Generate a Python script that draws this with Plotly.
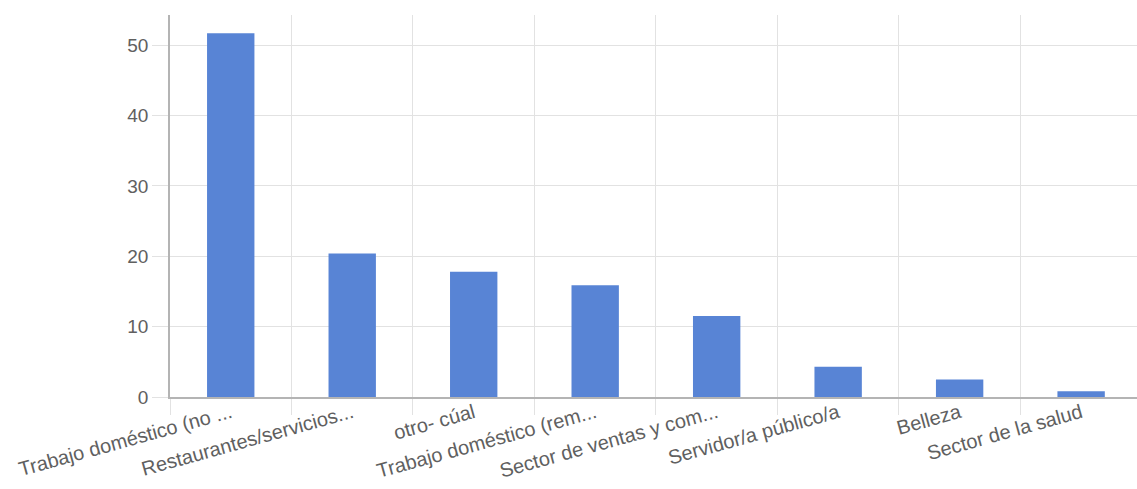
import plotly.graph_objects as go

# Sector labels (as displayed, truncated) and their values
categories = [
    "Trabajo doméstico (no ...",
    "Restaurantes/servicios...",
    "otro- cúal",
    "Trabajo doméstico (rem...",
    "Sector de ventas y com...",
    "Servidor/a público/a",
    "Belleza",
    "Sector de la salud",
]
values = [51.7, 20.4, 17.8, 15.9, 11.5, 4.3, 2.5, 0.8]

y_ticks = [0, 10, 20, 30, 40, 50]

BAR = "#5884d5"
GRID = "#e2e2e2"
AXIS = "#b4b4b4"
TEXT = "#606060"
FONT = "Liberation Sans, Arial, sans-serif"

fig = go.Figure(
    go.Bar(
        x=categories,
        y=values,
        marker=dict(color=BAR, line=dict(width=0)),
        width=0.39,
        hoverinfo="x+y",
    )
)

fig.update_layout(
    width=1137,
    height=489,
    autosize=False,
    margin=dict(l=170, r=0, t=15, b=92, pad=0),
    paper_bgcolor="white",
    plot_bgcolor="white",
    showlegend=False,
    font=dict(family=FONT, size=19, color=TEXT),
)

fig.update_xaxes(
    type="category",
    range=[-0.5, 7.46],
    tickson="boundaries",
    showgrid=True,
    gridcolor=GRID,
    gridwidth=1,
    ticks="outside",
    ticklen=16,
    tickcolor=GRID,
    tickangle=-15.5,
    ticklabelstandoff=-5,
    tickfont=dict(family=FONT, size=20, color=TEXT),
    showline=True,
    linecolor=AXIS,
    linewidth=1.5,
    zeroline=False,
)

fig.update_yaxes(
    range=[0, 54.3],
    tickvals=y_ticks,
    showgrid=True,
    gridcolor=GRID,
    gridwidth=1,
    ticks="outside",
    ticklen=16,
    tickcolor=GRID,
    tickfont=dict(family=FONT, size=19, color=TEXT),
    showline=True,
    linecolor=AXIS,
    linewidth=1.5,
    zeroline=False,
)

fig.write_html("out.html")
